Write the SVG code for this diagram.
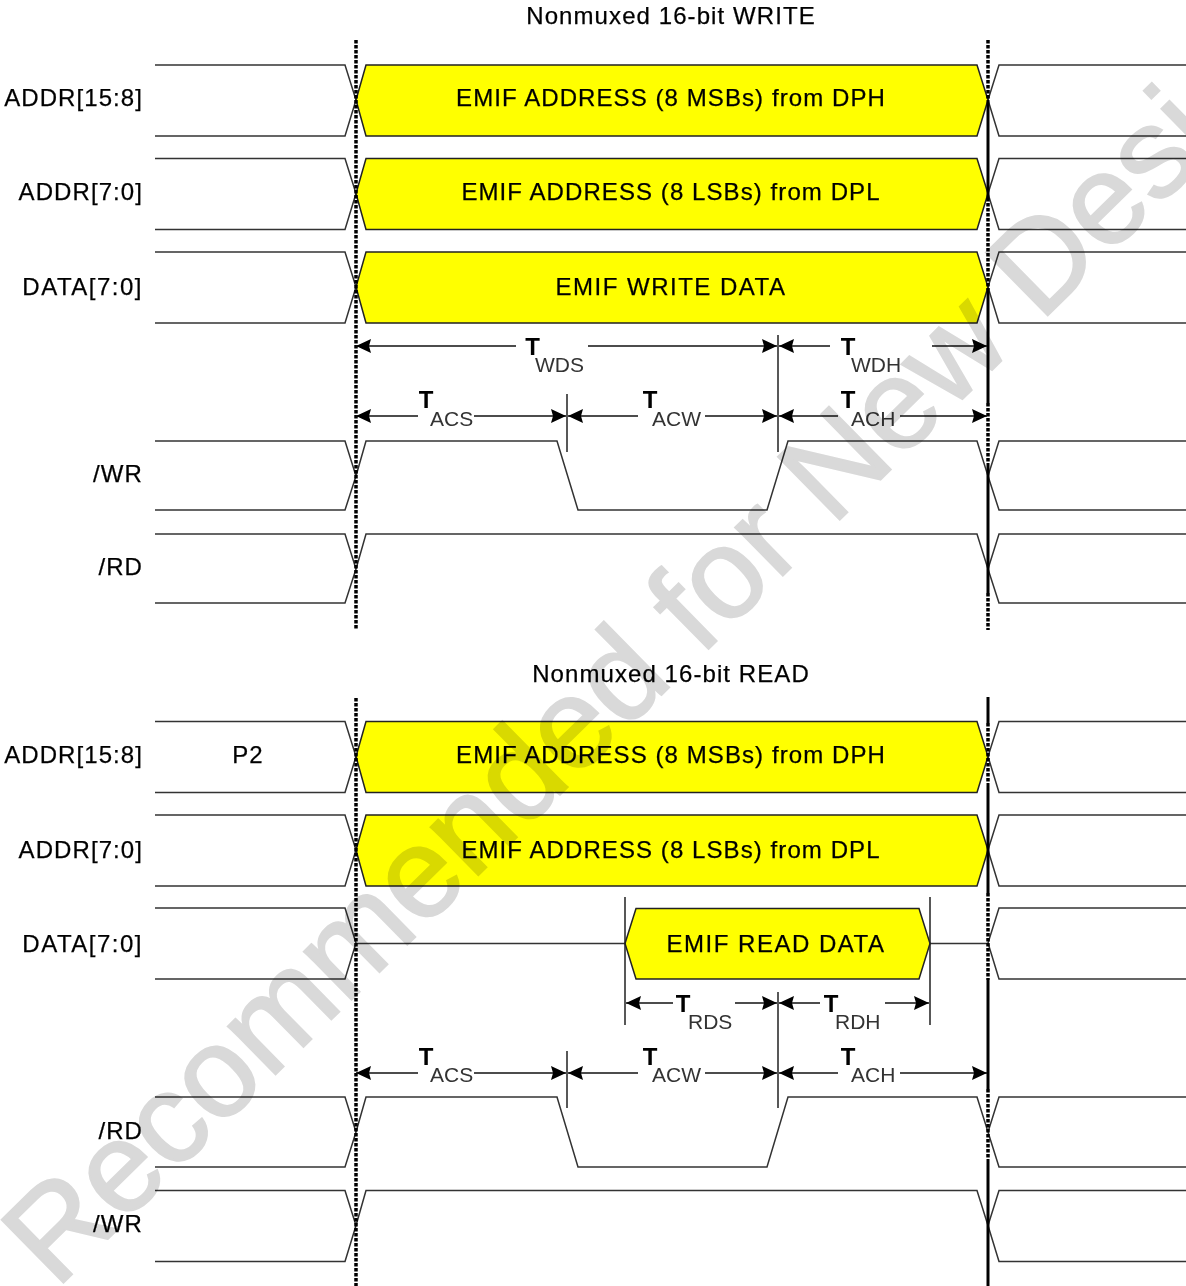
<svg xmlns="http://www.w3.org/2000/svg" width="1186" height="1286" viewBox="0 0 1186 1286">
<style>
text{font-family:"Liberation Sans",Arial,sans-serif;fill:#000}
.t{font-size:24px;text-anchor:middle;letter-spacing:1.08px;stroke:#000;stroke-width:.25}
.l{font-size:24px;text-anchor:end;letter-spacing:1.08px;stroke:#000;stroke-width:.25}
.d{letter-spacing:1.5px}
.T{font-size:24px;text-anchor:middle;font-weight:bold}
.s{font-size:21px;text-anchor:start;fill:#333}
.w{fill:none;stroke:#333;stroke-width:1.5}
.b{fill:#ff0;stroke:#222;stroke-width:1.5}
.g{fill:none;stroke:#222;stroke-width:1.5}
.a{stroke:#111;stroke-width:1.5;fill:none;marker-end:url(#ah)}
.dot{stroke:#000;stroke-width:3.5;stroke-dasharray:3.5 1.5;fill:none}
.solid{stroke:#000;stroke-width:3;fill:none}
.wm{font-size:128px;fill:#d9d9d9;stroke:#d9d9d9;stroke-width:2;font-family:"Liberation Sans",Arial,sans-serif;mix-blend-mode:multiply}
</style>
<defs>
<marker id="ah" markerUnits="userSpaceOnUse" markerWidth="17" markerHeight="16" refX="15" refY="8" orient="auto"><path d="M0 1L15 8L0 15L2 8Z" fill="#000"/></marker>
<path id="bl" class="w" d="M155 0H345L356 35L345 71H155"/>
<path id="br" class="w" d="M1186 0H999L988 35L999 71H1186"/>
<path id="yb" class="b" d="M366 0H977L988 35L977 71H366L356 35Z"/>
<path id="xl" class="w" d="M155 0H345L356 35L345 69H155M356 35L366 0H557L578 69H767L788 0H977L988 35L999 0H1186M988 35L999 69H1186"/>
<path id="xh" class="w" d="M155 0H345L356 35L345 69H155M356 35L366 0H977L988 35L999 0H1186M988 35L999 69H1186"/>
<path id="xl2" class="w" d="M155 0H345L356 35L345 70H155M356 35L366 0H557L578 70H767L788 0H977L988 35L999 0H1186M988 35L999 70H1186"/>
<path id="xh2" class="w" d="M155 0H345L356 35L345 71H155M356 35L366 0H977L988 35L999 0H1186M988 35L999 71H1186"/>
</defs>
<g id="signals">
<use href="#bl" y="65"/><use href="#br" y="65"/><use href="#yb" y="65"/>
<use href="#bl" y="158.5"/><use href="#br" y="158.5"/><use href="#yb" y="158.5"/>
<use href="#bl" y="252"/><use href="#br" y="252"/><use href="#yb" y="252"/>
<use href="#xl" y="441"/><use href="#xh" y="534"/>
<use href="#bl" y="721.5"/><use href="#br" y="721.5"/><use href="#yb" y="721.5"/>
<use href="#bl" y="815"/><use href="#br" y="815"/><use href="#yb" y="815"/>
<use href="#bl" y="908"/><use href="#br" y="908"/>
<path class="w" d="M356 943.5H625M930 943.5H988"/>
<path class="b" d="M636 908.5H919L930 943.5L919 979H636L625 943.5Z"/>
<use href="#xl2" y="1097"/><use href="#xh2" y="1190.5"/>
</g>
<g id="guides">
<path class="dot" d="M356 40V630M356 698V1286"/>
<path class="dot" d="M988 40V100M988 198V290M988 403V463M988 593V630M988 723V783M988 893V980M988 1089V1159"/>
<path class="solid" d="M988 100V198M988 290V403M988 463V593M988 697V723M988 783V893M988 980V1089M988 1159V1286"/>
<path class="g" d="M778 335V452M567 394V452M625 897V1025M930 897V1025M778 992V1108M567 1051V1108"/>
</g>
<g id="connectors">
<path class="a" d="M516 346H356"/><path class="a" d="M588 346H777"/>
<path class="a" d="M830 346H779"/><path class="a" d="M932 346H987"/>
<path class="a" d="M418 416H356"/><path class="a" d="M474 416H566"/>
<path class="a" d="M638 416H568"/><path class="a" d="M705 416H777"/>
<path class="a" d="M838 416H779"/><path class="a" d="M900 416H987"/>
<path class="a" d="M673 1003H626"/><path class="a" d="M735 1003H777"/>
<path class="a" d="M820 1003H779"/><path class="a" d="M885 1003H929"/>
<path class="a" d="M418 1073H356"/><path class="a" d="M474 1073H566"/>
<path class="a" d="M638 1073H568"/><path class="a" d="M705 1073H777"/>
<path class="a" d="M838 1073H779"/><path class="a" d="M900 1073H987"/>
</g>
<g id="labels">
<text class="t" x="671" y="24">Nonmuxed 16-bit WRITE</text>
<text class="l" x="143" y="106">ADDR[15:8]</text>
<text class="t" x="671" y="106">EMIF ADDRESS (8 MSBs) from DPH</text>
<text class="l" x="143" y="199.5">ADDR[7:0]</text>
<text class="t" x="671" y="199.5">EMIF ADDRESS (8 LSBs) from DPL</text>
<text class="l d" x="143" y="294.5">DATA[7:0]</text>
<text class="t d" x="671" y="294.5">EMIF WRITE DATA</text>
<text class="T" x="532.5" y="355">T</text><text class="s" x="535" y="372">WDS</text>
<text class="T" x="848" y="355">T</text><text class="s" x="851" y="372">WDH</text>
<text class="T" x="426" y="408">T</text><text class="s" x="430" y="426">ACS</text>
<text class="T" x="650" y="408">T</text><text class="s" x="652" y="426">ACW</text>
<text class="T" x="848" y="408">T</text><text class="s" x="851" y="426">ACH</text>
<text class="l" x="143" y="482">/WR</text>
<text class="l" x="143" y="575">/RD</text>
<text class="t" x="671" y="682">Nonmuxed 16-bit READ</text>
<text class="l" x="143" y="762.5">ADDR[15:8]</text>
<text class="t" x="248" y="762.5">P2</text>
<text class="t" x="671" y="762.5">EMIF ADDRESS (8 MSBs) from DPH</text>
<text class="l" x="143" y="857.5">ADDR[7:0]</text>
<text class="t" x="671" y="857.5">EMIF ADDRESS (8 LSBs) from DPL</text>
<text class="l d" x="143" y="951.5">DATA[7:0]</text>
<text class="t d" x="776" y="951.5">EMIF READ DATA</text>
<text class="T" x="683" y="1012">T</text><text class="s" x="688" y="1029">RDS</text>
<text class="T" x="831" y="1012">T</text><text class="s" x="835" y="1029">RDH</text>
<text class="T" x="426" y="1065">T</text><text class="s" x="430" y="1081.5">ACS</text>
<text class="T" x="650" y="1065">T</text><text class="s" x="652" y="1081.5">ACW</text>
<text class="T" x="848" y="1065">T</text><text class="s" x="851" y="1081.5">ACH</text>
<text class="l" x="143" y="1138.5">/RD</text>
<text class="l" x="143" y="1231.5">/WR</text>
</g>
<text class="wm" transform="translate(56 1290) rotate(-44.5)">Recommended for New Designs</text>
</svg>
